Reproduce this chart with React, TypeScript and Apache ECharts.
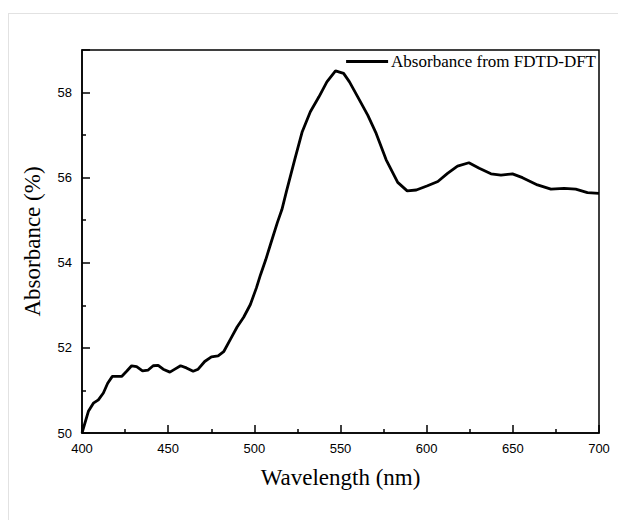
import React, { useEffect, useRef } from "react";
import * as echarts from "echarts";

const wavelengths = [
  400, 403.7, 406.6, 409.5, 412.4, 414.9, 417.6, 423, 425.9, 428.8, 431.7, 435.1, 438.4, 441.3,
  444.2, 447.1, 451, 453.9, 457.2, 460.6, 464.5, 467.4, 471.2, 475.1, 479, 482.2, 486.1, 490,
  493.8, 497.7, 501.2, 503.6, 506.6, 509.9, 513.4, 516, 518.6, 523.4, 527.8, 532.5, 537.5,
  542.1, 547.1, 551.8, 555.2, 560, 565.8, 570.7, 576.5, 583.2, 588.7, 594, 600.5, 606.5,
  612.1, 617.9, 624.5, 630.5, 637.3, 643.1, 649.8, 655.6, 664.3, 672.1, 679.8, 686.5, 693.3, 700,
];
const absorbance = [
  50.0, 50.51, 50.7, 50.78, 50.94, 51.17, 51.33, 51.33, 51.45, 51.58, 51.56, 51.46, 51.48, 51.58,
  51.59, 51.5, 51.43, 51.5, 51.58, 51.53, 51.45, 51.5, 51.68, 51.79, 51.81, 51.91, 52.2, 52.49,
  52.72, 53.02, 53.41, 53.72, 54.07, 54.5, 54.95, 55.25, 55.67, 56.42, 57.08, 57.55, 57.9,
  58.25, 58.51, 58.45, 58.25, 57.9, 57.47, 57.04, 56.42, 55.89, 55.69, 55.71, 55.81, 55.91,
  56.1, 56.27, 56.35, 56.22, 56.09, 56.06, 56.09, 56.0, 55.83, 55.73, 55.75, 55.73, 55.65, 55.63,
];
const seriesName = "Absorbance from FDTD-DFT";
const xTitle = "Wavelength (nm)";
const yTitle = "Absorbance (%)";

export default function App() {
  const ref = useRef<HTMLDivElement>(null);
  useEffect(() => {
    if (!ref.current) return;
    const chart = echarts.init(ref.current, null, { renderer: "svg" });
    const data = wavelengths.map((w, i) => [w, absorbance[i]]);
    const axisCommon = {
      axisLine: { show: true, lineStyle: { color: "#000", width: 1.5 } },
      axisTick: { show: true, inside: true, length: 8, lineStyle: { color: "#000", width: 1.5 } },
      minorTick: { show: true, splitNumber: 2, length: 4, lineStyle: { color: "#000", width: 1.5 } },
      splitLine: { show: false },
      axisLabel: { color: "#000", fontFamily: "Liberation Sans", fontSize: 13 },
      nameTextStyle: { color: "#000", fontFamily: "Liberation Serif", fontSize: 23 },
    };
    chart.setOption({
      animation: false,
      grid: {
        left: 82,
        right: 19,
        top: 50,
        bottom: 87,
        show: true,
        borderColor: "#000",
        borderWidth: 1.5,
        backgroundColor: "transparent",
      },
      legend: {
        right: 22,
        top: 53,
        padding: 0,
        itemWidth: 42,
        itemHeight: 3,
        icon: "rect",
        itemStyle: { color: "#000", borderWidth: 0 },
        data: [seriesName],
        textStyle: { color: "#000", fontFamily: "Liberation Serif", fontSize: 17, padding: [0, 0, 0, -2] },
      },
      xAxis: {
        type: "value",
        min: 400,
        max: 700,
        interval: 50,
        name: xTitle,
        nameLocation: "middle",
        nameGap: 33,
        ...axisCommon,
        axisLabel: { ...axisCommon.axisLabel, margin: 9 },
      },
      yAxis: {
        type: "value",
        min: 50,
        max: 59,
        interval: 2,
        name: yTitle,
        nameLocation: "middle",
        nameGap: 38,
        ...axisCommon,
        axisLabel: { ...axisCommon.axisLabel, margin: 10, showMaxLabel: false },
      },
      series: [
        {
          name: seriesName,
          type: "line",
          data,
          symbol: "none",
          showSymbol: false,
          lineStyle: { color: "#000", width: 2.8 },
          itemStyle: { color: "#000" },
        },
      ],
    });
    return () => chart.dispose();
  }, []);
  return (
    <div style={{ position: "absolute", left: 0, top: 0, width: 618, height: 520, overflow: "hidden", background: "#fff" }}>
      <div
        style={{
          position: "absolute",
          left: 8,
          top: 13,
          width: 700,
          height: 600,
          borderTop: "1px solid #e2e2e2",
          borderLeft: "1px solid #e2e2e2",
        }}
      />
      <div ref={ref} style={{ position: "absolute", left: 0, top: 0, width: 618, height: 520 }} />
    </div>
  );
}
